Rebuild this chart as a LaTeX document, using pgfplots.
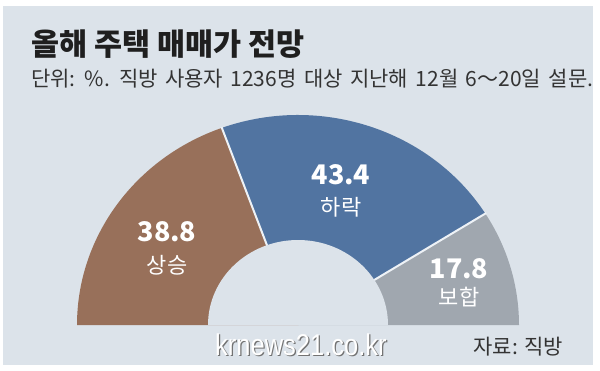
\documentclass[border=0pt]{standalone}
\usepackage{pgfplots}
\usepackage{pgfplotstable}
\pgfplotsset{compat=1.18}
\usepackage{fontspec}
\setmainfont{Noto Sans CJK KR}
\newfontfamily\wmfont[FakeStretch=0.85]{Liberation Sans}
\newfontfamily\subfont[WordSpace=1.6]{Noto Sans CJK KR}
\definecolor{panel}{HTML}{DCE3EA}
\definecolor{cUp}{HTML}{98705A}
\definecolor{cDown}{HTML}{5174A1}
\definecolor{cFlat}{HTML}{A0A7AF}
\definecolor{sep}{HTML}{EEF2F6}
\pgfplotstableread{
idx value
0 38.8
1 43.4
2 17.8
}\sharetable
\begin{document}
\begin{tikzpicture}
\pgfplotstablegetelem{0}{value}\of\sharetable \let\vA\pgfplotsretval
\pgfplotstablegetelem{1}{value}\of\sharetable \let\vB\pgfplotsretval
\pgfplotstablegetelem{2}{value}\of\sharetable \let\vC\pgfplotsretval
\pgfmathsetmacro\tot{\vA+\vB+\vC}
\pgfmathsetmacro\aA{180-180*\vA/\tot}
\pgfmathsetmacro\aB{\aA-180*\vB/\tot}
\def\cx{298}\def\cy{45}\def\Rx{221}\def\Ry{210}\def\rx{90}\def\ry{85}
\begin{axis}[x=1pt,y=1pt,xmin=0,xmax=600,ymin=0,ymax=370,hide axis,clip=false]
\fill[white] (axis cs:0,0) rectangle (axis cs:600,370);
\fill[panel] (axis cs:3,5) rectangle (axis cs:593,364);
% wedges
\fill[cUp] (axis cs:\cx,\cy) -- (axis cs:{\cx-\Rx},\cy) arc[start angle=180, end angle=\aA, x radius=\Rx pt, y radius=\Ry pt] -- cycle;
\fill[cDown] (axis cs:\cx,\cy) -- (axis cs:{\cx+\Rx*cos(\aA)},{\cy+\Ry*sin(\aA)}) arc[start angle=\aA, end angle=\aB, x radius=\Rx pt, y radius=\Ry pt] -- cycle;
\fill[cFlat] (axis cs:\cx,\cy) -- (axis cs:{\cx+\Rx*cos(\aB)},{\cy+\Ry*sin(\aB)}) arc[start angle=\aB, end angle=0, x radius=\Rx pt, y radius=\Ry pt] -- cycle;
% separators
\draw[sep, line width=2pt] (axis cs:{\cx+(\rx-2)*cos(\aA)},{\cy+(\ry-2)*sin(\aA)}) -- (axis cs:{\cx+(\Rx+1)*cos(\aA)},{\cy+(\Ry+1)*sin(\aA)});
\draw[sep, line width=2pt] (axis cs:{\cx+(\rx-2)*cos(\aB)},{\cy+(\ry-2)*sin(\aB)}) -- (axis cs:{\cx+(\Rx+1)*cos(\aB)},{\cy+(\Ry+1)*sin(\aB)});
% hole
\fill[panel] (axis cs:{\cx+\rx},\cy) arc[start angle=0, end angle=180, x radius=\rx pt, y radius=\ry pt] -- cycle;
% labels
\node[inner sep=0, text=white, font=\bfseries\fontsize{27}{27}\selectfont] at (axis cs:167,138) {\vA};
\node[inner sep=0, text=white, font=\fontsize{22}{22}\selectfont] at (axis cs:167,105) {상승};
\node[inner sep=0, text=white, font=\bfseries\fontsize{27}{27}\selectfont] at (axis cs:341,195) {\vB};
\node[inner sep=0, text=white, font=\fontsize{22}{22}\selectfont] at (axis cs:341,163) {하락};
\node[inner sep=0, text=white, font=\bfseries\fontsize{27}{27}\selectfont] at (axis cs:459,101) {\vC};
\node[inner sep=0, text=white, font=\fontsize{22}{22}\selectfont] at (axis cs:459,73) {보합};
% titles
\node[anchor=base west, inner sep=0, text=black!88, font=\bfseries\fontsize{30.5}{30.5}\selectfont] at (axis cs:31,314) {올해 주택 매매가 전망};
\node[anchor=base west, inner sep=0, text=black!80, font=\subfont\fontsize{21}{21}\selectfont] at (axis cs:31,283) {단위: \%. 직방 사용자 1236명 대상 지난해 12월 6～20일 설문.};
\node[anchor=base east, inner sep=0, text=black!80, font=\fontsize{21}{21}\selectfont] at (axis cs:563,16) {자료: 직방};
% watermark
\node[anchor=base west, inner sep=0, text=black!55, font=\wmfont\fontsize{30}{30}\selectfont] at (axis cs:216.2,13.8) {krnews21.co.kr};
\node[anchor=base west, inner sep=0, text=white, font=\wmfont\fontsize{30}{30}\selectfont] at (axis cs:215,15) {krnews21.co.kr};
\end{axis}
\end{tikzpicture}
\end{document}
